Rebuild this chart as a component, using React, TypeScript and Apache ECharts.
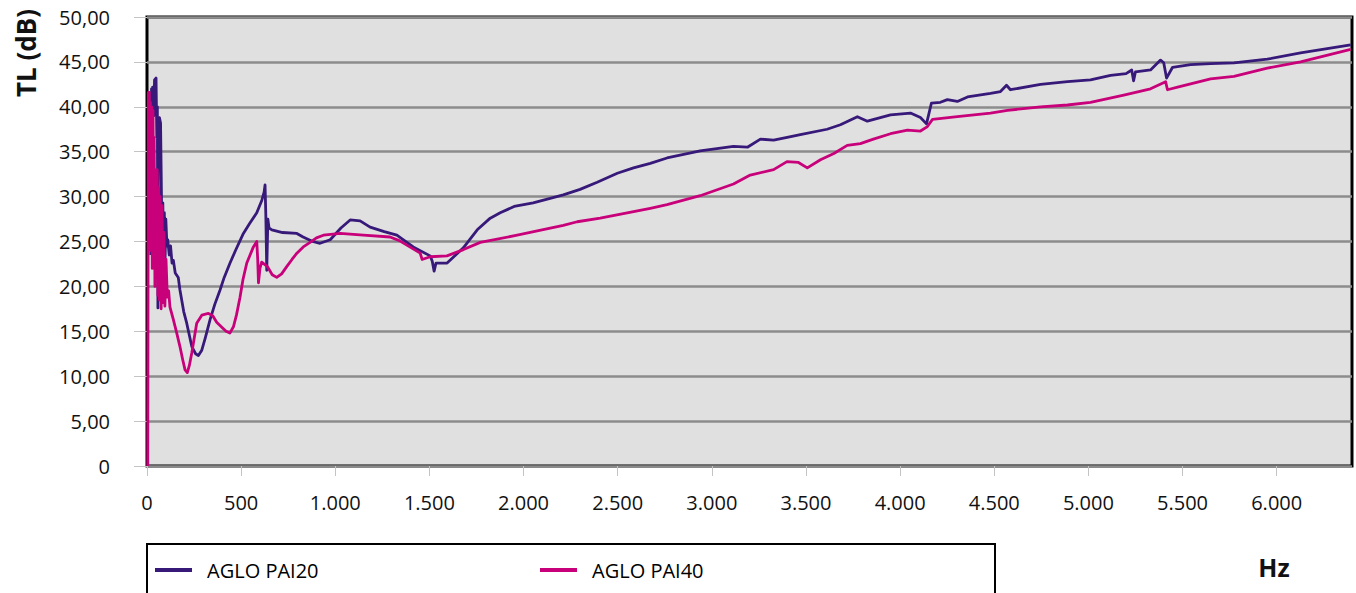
import React, { useEffect, useRef } from "react";
import * as echarts from "echarts";

const seriesNames = ["AGLO PAI20", "AGLO PAI40"];
const xTickValues = [0, 500, 1000, 1500, 2000, 2500, 3000, 3500, 4000, 4500, 5000, 5500, 6000];

// [Hz, dB]
const pai20: [number, number][] = [
  [20, 23.5], [24, 42.0], [27, 25.0], [30, 42.2], [36, 39.0], [40, 43.0], [48, 43.2],
  [52, 36.6], [55, 40.0], [58, 17.6], [61, 38.5], [66, 38.8], [72, 38.2], [76, 31.5],
  [80, 24.0], [84, 29.3], [88, 24.5], [92, 28.2], [96, 23.0], [100, 27.5], [106, 24.5],
  [110, 25.2], [118, 23.5], [125, 24.5], [133, 22.6], [140, 22.9], [150, 21.5], [166, 21.0],
  [175, 19.6], [195, 17.2], [211, 15.9], [238, 13.3], [258, 12.5], [273, 12.3], [291, 12.9],
  [310, 14.3], [335, 16.3], [360, 18.0], [388, 19.6], [410, 21.0], [441, 22.6], [470, 24.0],
  [512, 25.9], [545, 27.0], [583, 28.2], [610, 29.6], [622, 30.5],
  [627, 31.3], [631, 28.0], [636, 21.8], [642, 27.5], [648, 26.5], [663, 26.3], [720, 26.0],
  [796, 25.9], [829, 25.5], [880, 25.0], [919, 24.8], [973, 25.2], [1030, 26.5], [1079, 27.4],
  [1132, 27.3], [1185, 26.6], [1260, 26.1], [1327, 25.7], [1414, 24.4], [1504, 23.4],
  [1515, 22.8], [1525, 21.7], [1535, 22.6], [1594, 22.6], [1680, 24.3], [1754, 26.3],
  [1823, 27.6], [1876, 28.2], [1950, 28.9], [2051, 29.3], [2211, 30.2], [2300, 30.8],
  [2391, 31.6], [2498, 32.6], [2584, 33.2], [2673, 33.7], [2762, 34.3], [2938, 35.1],
  [3115, 35.6], [3189, 35.5], [3258, 36.4], [3328, 36.3], [3400, 36.6], [3470, 36.9],
  [3612, 37.5], [3683, 38.0], [3773, 38.9], [3826, 38.4], [3949, 39.1], [4055, 39.3],
  [4108, 38.8], [4140, 38.1], [4166, 40.4], [4214, 40.5], [4251, 40.8], [4304, 40.6],
  [4358, 41.1], [4480, 41.5], [4533, 41.7], [4565, 42.4], [4586, 41.9], [4746, 42.5],
  [4889, 42.8], [5011, 43.0], [5118, 43.5], [5200, 43.7], [5230, 44.1], [5240, 42.9],
  [5250, 43.9], [5330, 44.1], [5383, 45.2], [5400, 44.9], [5415, 43.2], [5447, 44.4],
  [5543, 44.7], [5649, 44.8], [5773, 44.9], [5950, 45.3], [6127, 46.0], [6393, 46.9],
];

const pai40: [number, number][] = [
  [4, 0], [7, 41.6], [12, 41.6], [15, 30.0], [18, 40.5], [21, 24.0], [25, 40.0], [28, 22.0],
  [32, 39.6], [35, 28.0], [38, 36.6], [42, 20.0], [46, 33.0], [50, 21.0], [54, 33.0],
  [58, 19.0], [62, 31.0], [66, 18.5], [70, 30.0], [75, 17.5], [80, 29.0], [85, 18.2],
  [90, 26.0], [95, 17.8], [101, 23.0], [108, 18.8], [115, 19.5], [122, 17.7], [140, 16.3],
  [158, 14.8], [175, 13.3], [190, 11.8], [202, 10.7], [214, 10.4], [225, 11.2], [238, 12.6],
  [264, 15.9], [291, 16.8], [326, 17.0], [350, 16.7], [370, 16.0], [400, 15.4], [420, 15.0],
  [440, 14.8], [459, 15.5], [475, 16.8], [494, 18.8], [510, 20.8], [530, 22.6], [565, 24.4],
  [583, 25.0], [588, 23.0], [592, 20.4], [600, 22.0], [609, 22.7], [640, 22.2], [665, 21.3],
  [689, 21.0], [715, 21.4], [742, 22.2], [770, 23.0], [796, 23.7], [830, 24.4], [866, 24.9],
  [900, 25.4], [937, 25.7], [1026, 25.9], [1149, 25.7], [1291, 25.5],
  [1340, 25.1], [1380, 24.6], [1451, 23.7], [1461, 23.0], [1504, 23.3], [1593, 23.4], [1681, 24.1],
  [1770, 24.9], [1966, 25.7], [2211, 26.8], [2285, 27.2], [2407, 27.6], [2673, 28.7],
  [2762, 29.1], [2938, 30.1], [3115, 31.4], [3204, 32.4], [3328, 33.0], [3399, 33.9],
  [3460, 33.8], [3507, 33.2], [3577, 34.1], [3648, 34.8], [3719, 35.7], [3789, 35.9],
  [3858, 36.4], [3949, 37.0], [4039, 37.4], [4108, 37.3], [4145, 37.8], [4172, 38.6],
  [4304, 38.9], [4480, 39.3], [4570, 39.6], [4746, 40.0], [4889, 40.2], [5011, 40.5],
  [5188, 41.3], [5330, 42.0], [5410, 42.8], [5420, 41.9], [5474, 42.2], [5649, 43.1],
  [5773, 43.4], [5950, 44.3], [6127, 45.0], [6393, 46.4],
];

const COLORS = ["#37197a", "#c8007a"];
const FONT = "'Open Sans', 'Noto Sans', sans-serif";

const fmtX = (v: number) => String(v).replace(/\B(?=(\d{3})+(?!\d))/g, ".");
const fmtY = (v: number) => (v === 0 ? "0" : v.toFixed(2).replace(".", ","));

export default function App() {
  const ref = useRef<HTMLDivElement>(null);
  useEffect(() => {
    if (!ref.current) return;
    const chart = echarts.init(ref.current, null, { renderer: "svg" });
    const legendCommon = {
      top: 558,
      padding: 0,
      orient: "horizontal",
      itemWidth: 37,
      itemHeight: 4,
      icon: "rect",
      textStyle: { fontFamily: FONT, fontSize: 20, color: "#000", padding: [0, 0, 0, 10], lineHeight: 24 },
    };
    chart.setOption({
      animation: false,
      backgroundColor: "#ffffff",
      grid: {
        left: 147,
        right: 4,
        top: 17,
        bottom: 127,
        show: true,
        backgroundColor: "#e0e0e0",
        borderColor: "#000000",
        borderWidth: 3,
      },
      legend: [
        { ...legendCommon, left: 155, data: [seriesNames[0]] },
        { ...legendCommon, left: 540, data: [seriesNames[1]] },
      ],
      xAxis: {
        type: "value",
        min: 0,
        max: 6400,
        interval: 500,
        axisLine: { show: false },
        axisTick: {
          show: true,
          length: 10,
          customValues: xTickValues,
          lineStyle: { color: "#c4c4c4", width: 1 },
        },
        axisLabel: {
          customValues: xTickValues,
          formatter: fmtX,
          fontFamily: FONT,
          fontSize: 20,
          color: "#111",
          margin: 26,
        },
        splitLine: { show: false },
      },
      yAxis: {
        type: "value",
        min: 0,
        max: 50,
        interval: 5,
        axisLine: { show: false },
        axisTick: { show: true, length: 13, lineStyle: { color: "#c4c4c4", width: 1 } },
        axisLabel: {
          formatter: fmtY,
          fontFamily: FONT,
          fontSize: 20,
          color: "#111",
          margin: 37,
        },
        splitLine: { show: true, lineStyle: { color: "#8c8c8c", width: 2.5 } },
      },
      graphic: [
        {
          type: "rect",
          z: -1,
          shape: { x: 147, y: 544, width: 848, height: 70 },
          style: { fill: "#ffffff", stroke: "#000000", lineWidth: 2 },
        },
        {
          type: "text",
          x: 26,
          y: 53,
          rotation: Math.PI / 2,
          style: {
            text: "TL (dB)",
            font: `bold 26px ${FONT}`,
            fill: "#111",
            textAlign: "center",
            textVerticalAlign: "middle",
          },
        },
        {
          type: "text",
          x: 1274,
          y: 567,
          style: {
            text: "Hz",
            font: `bold 25px ${FONT}`,
            fill: "#111",
            textAlign: "center",
            textVerticalAlign: "middle",
          },
        },
      ],
      series: [
        {
          name: seriesNames[0],
          type: "line",
          data: pai20,
          showSymbol: false,
          symbol: "none",
          lineStyle: { color: COLORS[0], width: 2.8, join: "round" },
          itemStyle: { color: COLORS[0] },
        },
        {
          name: seriesNames[1],
          type: "line",
          data: pai40,
          showSymbol: false,
          symbol: "none",
          lineStyle: { color: COLORS[1], width: 2.8, join: "round" },
          itemStyle: { color: COLORS[1] },
        },
      ],
    });
    return () => chart.dispose();
  }, []);
  return (
    <div
      ref={ref}
      style={{ position: "fixed", left: 0, top: 0, width: 1356, height: 593, background: "#fff" }}
    />
  );
}
